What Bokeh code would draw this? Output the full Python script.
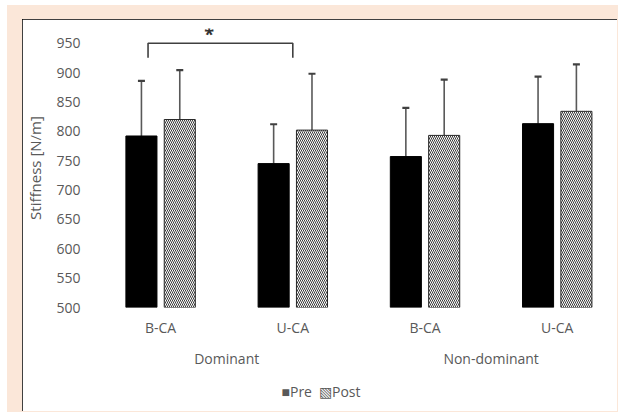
from bokeh.plotting import figure
from bokeh.models import (ColumnDataSource, FixedTicker, LinearAxis, Title,
                          Whisker, TeeHead, Range1d)
from bokeh.core.properties import value
from bokeh.embed import file_html
from bokeh.resources import INLINE

# ---- data ----
categories = ["B-CA", "U-CA", "B-CA", "U-CA"]
group_names = ["Dominant", "Non-dominant"]
group_of = [0, 0, 1, 1]
series_names = ["Pre", "Post"]
series_marks = ["\u25a0", "\u25a7"]
pre_mean = [792, 745, 757, 813]
pre_upper = [886, 812, 840, 893]
post_mean = [820, 802, 793, 834]
post_upper = [904, 898, 888, 914]
y_ticks = [500, 550, 600, 650, 700, 750, 800, 850, 900, 950]
sig_pair = [0, 1]
sig_low = 925
sig_high = 950
sig_mark = "*"

FONT = "Open Sans"
GRAY = "#595959"
PEACH = "#fbe7d9"

xs = list(range(len(categories)))
dodge = 0.145
bw = 0.235
pre_src = ColumnDataSource(dict(x=[i - dodge for i in xs], top=pre_mean, upper=pre_upper))
post_src = ColumnDataSource(dict(x=[i + dodge for i in xs], top=post_mean, upper=post_upper))

p = figure(width=595, height=392, x_range=Range1d(-0.5, 3.35), y_range=Range1d(500, 975),
           output_backend="svg", toolbar_location=None,
           min_border_left=70, min_border_right=14, min_border_top=9, min_border_bottom=104)
p.background_fill_color = "white"
p.border_fill_color = "white"
p.outline_line_color = None
p.xgrid.visible = False
p.ygrid.visible = False

r_pre = p.vbar(x="x", top="top", bottom=500, width=bw, source=pre_src,
               fill_color="black", line_color="black", line_width=1)
r_post = p.vbar(x="x", top="top", bottom=500, width=bw, source=post_src,
                fill_color="white", line_color="#262626", line_width=1,
                hatch_pattern="\\", hatch_color="#3a3a3a", hatch_scale=4.0, hatch_weight=1.0)

for src in (pre_src, post_src):
    w = Whisker(source=src, base="x", lower="top", upper="upper", dimension="height",
                line_color=GRAY, line_width=1.6, lower_head=None,
                upper_head=TeeHead(size=7, line_color="#404040", line_width=2.2))
    p.add_layout(w)

# significance bracket
bx0 = sig_pair[0] - 0.095
bx1 = sig_pair[1] + 0.0
p.line(x=[bx0, bx0, bx1, bx1], y=[sig_low, sig_high, sig_high, sig_low],
       line_color="#404040", line_width=1.6)
p.text(x=[(bx0 + bx1) / 2 - 0.085], y=[965], text=[sig_mark], text_font=value(FONT),
       text_font_size="18px", text_font_style="bold", text_color="#333333",
       text_align="center", text_baseline="middle")

# y axis
yax = p.yaxis[0]
yax.ticker = FixedTicker(ticks=y_ticks)
yax.axis_line_color = None
yax.major_tick_line_color = None
yax.minor_tick_line_color = None
yax.major_tick_out = 0
yax.major_tick_in = 0
yax.major_label_standoff = 14
yax.major_label_text_font = FONT
yax.major_label_text_font_size = "14px"
yax.major_label_text_color = GRAY
yax.axis_label = "Stiffness [N/m]"
yax.axis_label_text_font = FONT
yax.axis_label_text_font_size = "15px"
yax.axis_label_text_font_style = "normal"
yax.axis_label_text_color = GRAY
yax.axis_label_standoff = 8

# x axis (categories)
xax = p.xaxis[0]
xax.ticker = FixedTicker(ticks=xs)
xax.major_label_overrides = {i: c for i, c in zip(xs, categories)}
xax.axis_line_color = None
xax.major_tick_line_color = None
xax.minor_tick_line_color = None
xax.major_tick_out = 0
xax.major_tick_in = 0
xax.major_label_standoff = 10
xax.major_label_text_font = FONT
xax.major_label_text_font_size = "14px"
xax.major_label_text_color = GRAY

# group axis
g_centers = []
for g in range(len(group_names)):
    idx = [i for i in xs if group_of[i] == g]
    g_centers.append(sum(idx) / len(idx))
gax = LinearAxis(ticker=FixedTicker(ticks=g_centers),
                 major_label_overrides={c: n for c, n in zip(g_centers, group_names)})
gax.axis_line_color = None
gax.major_tick_line_color = None
gax.minor_tick_line_color = None
gax.major_tick_out = 0
gax.major_tick_in = 0
gax.major_label_standoff = 9
gax.major_label_text_font = FONT
gax.major_label_text_font_size = "14px"
gax.major_label_text_color = GRAY
p.add_layout(gax, "below")

# key for the two series
key_text = "\u2002".join(m + n for m, n in zip(series_marks, series_names))
key = Title(text=key_text, align="left", offset=187, standoff=19,
            text_font=FONT, text_font_size="14px", text_font_style="normal",
            text_color=GRAY)
p.add_layout(key, "below")

p.margin = (19, 1, 0, 22)
p.styles = {"outline": "2px solid black", "outline-offset": "-2px",
            "box-shadow": "-7px -6px 0 8px " + PEACH}

open("out.html", "w").write(file_html(p, INLINE))
